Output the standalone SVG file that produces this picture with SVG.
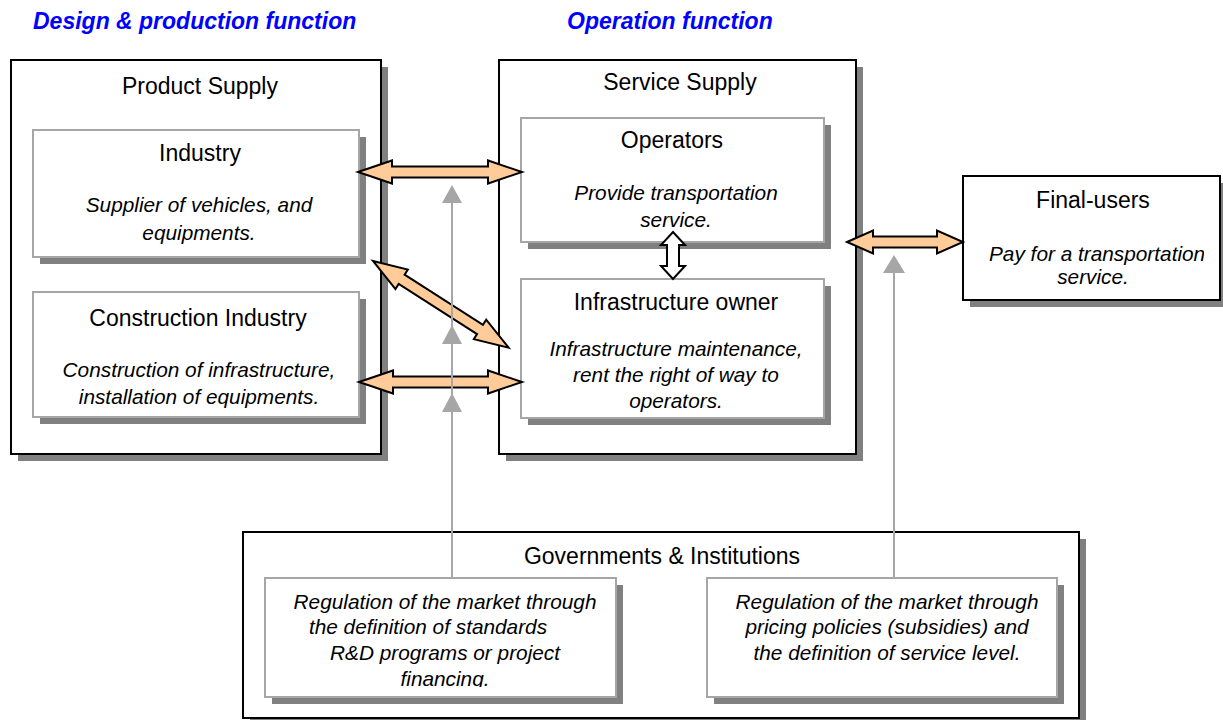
<svg xmlns="http://www.w3.org/2000/svg" width="1223" height="720" viewBox="0 0 1223 720">
<style>
text{font-family:"Liberation Sans",Arial,sans-serif;fill:#000;text-anchor:middle}
.hdr{font-size:23px;font-weight:bold;font-style:italic;fill:#0000ff;text-anchor:start}
.t{font-size:23px}
.i{font-size:20.8px;font-style:italic}
.sh{fill:#808080}
.outer{fill:#fff;stroke:#000;stroke-width:2}
.inner{fill:#fff;stroke:#a6a6a6;stroke-width:2}
.oa{fill:#ffcc99;stroke:#000;stroke-width:2;stroke-linejoin:miter}
.wa{fill:#fff;stroke:#000;stroke-width:2}
.gl{stroke:#a6a6a6;stroke-width:2;fill:none}
.gh{fill:#a6a6a6}
</style>
<defs>
<clipPath id="c1"><rect x="0" y="0" width="358" height="50"/></clipPath>
<clipPath id="c2"><rect x="960" y="240" width="244" height="60"/></clipPath>
<clipPath id="c3"><rect x="260" y="660" width="360" height="27"/></clipPath>
</defs>

<text class="hdr" x="33" y="29" clip-path="url(#c1)">Design &amp; production function</text>
<text class="hdr" x="567" y="29">Operation function</text>

<g id="product-supply">
<rect class="sh" x="18" y="67" width="370" height="394"/>
<rect class="outer" x="11" y="60" width="370" height="394"/>
<text class="t" x="200" y="94">Product Supply</text>
</g>

<g id="industry">
<rect class="sh" x="40" y="137" width="326" height="127"/>
<rect class="inner" x="33" y="130" width="326" height="127"/>
<text class="t" x="200" y="161">Industry</text>
<text class="i" x="199" y="212">Supplier of vehicles, and</text>
<text class="i" x="199" y="240">equipments.</text>
</g>

<g id="construction-industry">
<rect class="sh" x="40" y="299" width="326" height="125"/>
<rect class="inner" x="33" y="292" width="326" height="125"/>
<text class="t" x="198" y="326">Construction Industry</text>
<text class="i" x="199" y="377">Construction of infrastructure,</text>
<text class="i" x="199" y="404">installation of equipments.</text>
</g>

<g id="service-supply">
<rect class="sh" x="506" y="67" width="357" height="394"/>
<rect class="outer" x="499" y="60" width="357" height="394"/>
<text class="t" x="680" y="90">Service Supply</text>
</g>

<g id="operators">
<rect class="sh" x="528" y="125" width="303" height="124"/>
<rect class="inner" x="521" y="118" width="303" height="124"/>
<text class="t" x="672" y="148">Operators</text>
<text class="i" x="676" y="200">Provide transportation</text>
<text class="i" x="676" y="227">service.</text>
</g>

<g id="infrastructure-owner">
<rect class="sh" x="528" y="286" width="303" height="139"/>
<rect class="inner" x="521" y="279" width="303" height="139"/>
<text class="t" x="676" y="310">Infrastructure owner</text>
<text class="i" x="676" y="356">Infrastructure maintenance,</text>
<text class="i" x="676" y="382">rent the right of way to</text>
<text class="i" x="676" y="408">operators.</text>
</g>

<g id="final-users">
<rect class="sh" x="970" y="183" width="257" height="124"/>
<rect class="outer" x="963" y="176" width="257" height="124"/>
<text class="t" x="1093" y="208">Final-users</text>
<text class="i" x="989" y="261" style="text-anchor:start" clip-path="url(#c2)">Pay for a transportation</text>
<text class="i" x="1093" y="284">service.</text>
</g>

<g id="governments">
<rect class="sh" x="250" y="539" width="836" height="186"/>
<rect class="outer" x="243" y="532" width="836" height="186"/>
<text class="t" x="662" y="564">Governments &amp; Institutions</text>
</g>

<g id="regulation-standards">
<rect class="sh" x="272" y="585" width="351" height="119"/>
<rect class="inner" x="265" y="578" width="351" height="119"/>
<text class="i" x="445" y="609">Regulation of the market through</text>
<text class="i" x="428" y="634">the definition of standards</text>
<text class="i" x="445" y="660">R&amp;D programs or project</text>
<text class="i" x="445" y="686" clip-path="url(#c3)">financing.</text>
</g>

<g id="regulation-pricing">
<rect class="sh" x="714" y="585" width="350" height="119"/>
<rect class="inner" x="707" y="578" width="350" height="119"/>
<text class="i" x="887" y="609">Regulation of the market through</text>
<text class="i" x="887" y="634">pricing policies (subsidies) and</text>
<text class="i" x="887" y="660">the definition of service level.</text>
</g>

<g id="connectors">
<path class="oa" transform="translate(358,172)" d="M0,0 L34,-11.5 L34,-5.5 L130,-5.5 L130,-11.5 L164,0 L130,11.5 L130,5.5 L34,5.5 L34,11.5 Z"/>
<path class="oa" transform="translate(373,261) rotate(32.6)" d="M0,0 L34,-11.5 L34,-5.5 L127,-5.5 L127,-11.5 L161,0 L127,11.5 L127,5.5 L34,5.5 L34,11.5 Z"/>
<path class="oa" transform="translate(359,382)" d="M0,0 L34,-11.5 L34,-5.5 L129,-5.5 L129,-11.5 L163,0 L129,11.5 L129,5.5 L34,5.5 L34,11.5 Z"/>
<path class="oa" transform="translate(847,242)" d="M0,0 L26,-11.5 L26,-5.5 L90,-5.5 L90,-11.5 L116,0 L90,11.5 L90,5.5 L26,5.5 L26,11.5 Z"/>
<path class="wa" transform="translate(673,232) rotate(90)" d="M0,0 L13,-12 L13,-6 L34,-6 L34,-12 L47,0 L34,12 L34,6 L13,6 L13,12 Z"/>
<line class="gl" x1="452" y1="578" x2="452" y2="200"/>
<polygon class="gh" points="452,185 442,203 462,203"/>
<polygon class="gh" points="452,325 442,344 462,344"/>
<polygon class="gh" points="452,393 442,412 462,412"/>
<line class="gl" x1="894" y1="578" x2="894" y2="270"/>
<polygon class="gh" points="894,255 883,273 905,273"/>
</g>
</svg>
